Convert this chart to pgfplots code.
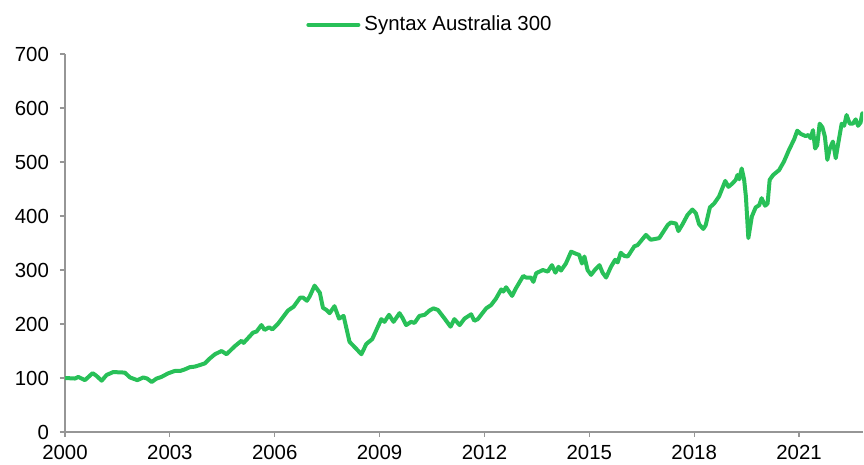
\documentclass[border=0pt]{standalone}
\usepackage{fontspec}
\setmainfont{Liberation Sans}
\usepackage{pgfplots}
\pgfplotsset{compat=1.18}
\definecolor{lgreen}{RGB}{40,192,88}
\definecolor{axgray}{RGB}{150,150,150}
\begin{document}
\begin{tikzpicture}
\useasboundingbox (-32.5pt,-16.5pt) rectangle (399.5pt,216pt);
\begin{axis}[
  scale only axis,
  width=399pt, height=189pt,
  xmin=2000, xmax=2022.83,
  ymin=0, ymax=700,
  axis x line*=bottom, axis y line*=left,
  axis line style={axgray, line width=0.6pt, -},
  xtick={2000,2003,...,2021},
  ytick={0,100,...,700},
  x tick label style={/pgf/number format/1000 sep={}},
  tick align=outside,
  major tick length=2.5pt,
  tick style={axgray, line width=0.6pt},
  /pgf/number format/assume math mode=true,
  tick label style={font=\fontsize{10.2}{12}\selectfont, text=black},
  xticklabel style={yshift=-0.5pt},
  yticklabel style={xshift=-2pt},
  legend style={at={(0.4586,1.077)}, anchor=center, draw=none, fill=none,
    font=\fontsize{10.2}{12}\selectfont, inner sep=0pt},
  legend cell align=left,
  legend image code/.code={\draw[#1, line width=2pt] (0cm,0cm) -- (0.88cm,0cm);},
]
\addplot[lgreen, line width=2pt, line join=round, line cap=round] coordinates {
(2000.00,100) (2000.29,99) (2000.38,102) (2000.57,96) (2000.79,109) (2000.90,104)
(2001.05,95) (2001.19,105.6) (2001.38,111) (2001.71,110) (2001.86,101) (2002.07,96)
(2002.24,101) (2002.35,99) (2002.48,92.6) (2002.62,99) (2002.76,102) (2002.95,108.6)
(2003.14,113) (2003.29,113) (2003.43,116) (2003.57,120) (2003.71,121) (2003.86,124)
(2004.00,127) (2004.14,136) (2004.29,144) (2004.48,150) (2004.62,144) (2004.86,159)
(2005.05,169) (2005.11,165) (2005.38,184) (2005.48,186) (2005.62,198) (2005.71,189)
(2005.84,194) (2005.93,190) (2006.10,201) (2006.38,225) (2006.54,232) (2006.73,249)
(2006.81,249) (2006.92,243) (2007.00,251) (2007.14,271) (2007.29,258) (2007.38,230)
(2007.48,226) (2007.57,220) (2007.71,233) (2007.84,210) (2007.97,215) (2008.14,167)
(2008.29,157) (2008.48,144) (2008.62,163) (2008.79,172) (2009.05,209) (2009.14,204)
(2009.27,217) (2009.40,204) (2009.57,220) (2009.65,212) (2009.76,198) (2009.90,204)
(2010.00,202) (2010.14,215) (2010.29,217) (2010.43,225) (2010.54,229) (2010.67,226)
(2010.86,210) (2011.03,195) (2011.14,209) (2011.29,198) (2011.43,210) (2011.62,218)
(2011.71,206) (2011.81,209) (2012.05,229) (2012.19,235) (2012.33,247) (2012.48,264)
(2012.54,260) (2012.62,268) (2012.79,252) (2012.90,266) (2013.11,289) (2013.19,286)
(2013.33,286) (2013.40,278) (2013.48,294) (2013.67,300) (2013.81,297) (2013.93,309)
(2014.03,295) (2014.12,306) (2014.19,299) (2014.33,312) (2014.48,334) (2014.62,330)
(2014.71,328) (2014.79,312) (2014.86,325) (2014.95,300) (2015.05,291) (2015.17,301)
(2015.29,309) (2015.38,295) (2015.48,286) (2015.62,306) (2015.74,319) (2015.81,314)
(2015.90,332) (2016.00,326) (2016.10,325) (2016.29,344) (2016.38,346) (2016.62,365)
(2016.76,356) (2017.00,359) (2017.24,383) (2017.33,388) (2017.48,386) (2017.55,372)
(2017.67,385) (2017.81,402) (2017.95,412) (2018.05,405) (2018.14,385) (2018.26,376)
(2018.33,383) (2018.45,416) (2018.57,423) (2018.71,436) (2018.89,465) (2018.98,454)
(2019.09,460) (2019.19,467) (2019.24,476) (2019.29,468) (2019.36,488) (2019.43,467)
(2019.48,436) (2019.55,359) (2019.65,399) (2019.76,416) (2019.86,420) (2019.93,433)
(2020.03,419) (2020.10,423) (2020.16,467) (2020.26,476) (2020.43,485) (2020.57,501)
(2020.71,522) (2020.86,542) (2020.95,558) (2021.05,552) (2021.19,548) (2021.27,550)
(2021.33,544) (2021.40,559) (2021.46,525) (2021.52,531) (2021.59,571) (2021.67,564)
(2021.74,547) (2021.81,504) (2021.88,525) (2021.97,538) (2022.05,507) (2022.12,534)
(2022.22,571) (2022.29,567) (2022.36,587) (2022.45,571) (2022.54,571) (2022.62,579)
(2022.69,567) (2022.76,573) (2022.81,590)
};
\addlegendentry{Syntax Australia 300}
\end{axis}
\end{tikzpicture}
\end{document}
